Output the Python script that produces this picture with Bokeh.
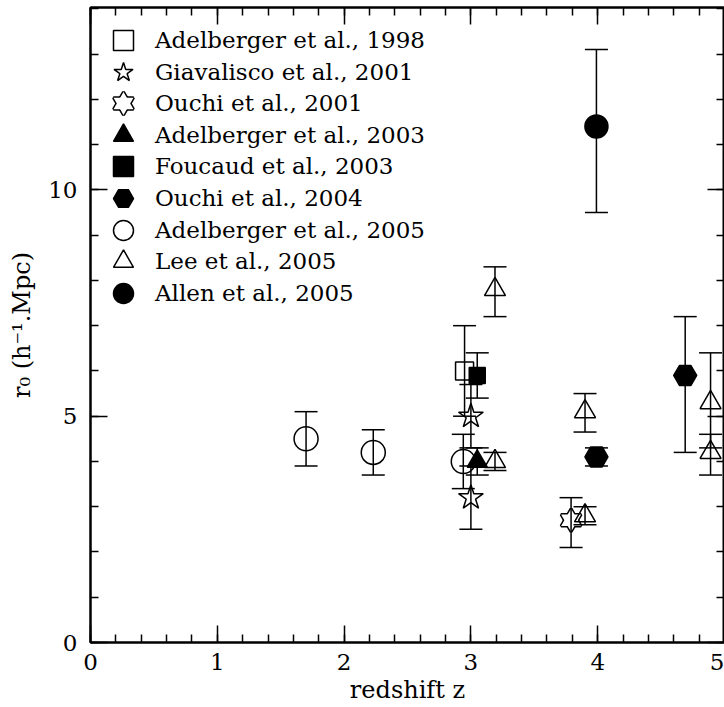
from bokeh.plotting import figure
from bokeh.models import Range1d, LinearAxis, SingleIntervalTicker, Legend, LegendItem
from bokeh.embed import file_html
from bokeh.resources import INLINE

# ---------------- data (redshift z, r0, upper err, lower err) ----------------
adel98_z = [2.95]
adel98_r = [6.0]
adel98_eu = [1.0]
adel98_el = [1.0]

giav01_z = [3.0, 3.0]
giav01_r = [5.0, 3.2]
giav01_eu = [0.7, 0.7]
giav01_el = [0.7, 0.7]

ouchi01_z = [3.79]
ouchi01_r = [2.7]
ouchi01_eu = [0.5]
ouchi01_el = [0.6]

adel03_z = [3.05]
adel03_r = [4.0]
adel03_eu = [0.3]
adel03_el = [0.3]

fouc03_z = [3.05]
fouc03_r = [5.9]
fouc03_eu = [0.5]
fouc03_el = [0.5]

ouchi04_z = [3.99, 4.69]
ouchi04_r = [4.1, 5.9]
ouchi04_eu = [0.2, 1.3]
ouchi04_el = [0.2, 1.7]

adel05_z = [1.7, 2.23, 2.94]
adel05_r = [4.5, 4.2, 4.0]
adel05_eu = [0.6, 0.5, 0.6]
adel05_el = [0.6, 0.5, 0.6]

lee05_z = [3.19, 3.19, 3.9, 3.9, 4.89, 4.89]
lee05_r = [7.8, 4.0, 5.1, 2.8, 5.3, 4.2]
lee05_eu = [0.5, 0.2, 0.4, 0.2, 1.1, 0.4]
lee05_el = [0.6, 0.2, 0.45, 0.2, 1.0, 0.5]

allen05_z = [3.99]
allen05_r = [11.4]
allen05_eu = [1.7]
allen05_el = [1.9]

labels = ["Adelberger et al., 1998", "Giavalisco et al., 2001", "Ouchi et al., 2001",
          "Adelberger et al., 2003", "Foucaud et al., 2003", "Ouchi et al., 2004",
          "Adelberger et al., 2005", "Lee et al., 2005", "Allen et al., 2005"]

x_label = "redshift z"
y_label = "r\u2080 (h\u207b\u00b9.Mpc)"

FONT = "DejaVu Serif"
LW = 1.5

# layout constants (pixels)
W, H = 724, 707
BORDER_L, BORDER_T, BORDER_B = 90, 7, 65
FRAME_H = H - BORDER_T - BORDER_B

p = figure(width=W, height=H, x_range=Range1d(0, 5.0), y_range=Range1d(0, 14.03),
           x_axis_type=None, y_axis_type=None, output_backend="svg", toolbar_location=None,
           min_border_left=BORDER_L, min_border_right=0, min_border_top=BORDER_T,
           min_border_bottom=BORDER_B,
           background_fill_color="white", border_fill_color="white")
p.outline_line_color = "black"
p.outline_line_width = 2


def make_axis(interval, show_labels):
    ax = LinearAxis(ticker=SingleIntervalTicker(interval=interval, num_minor_ticks=5))
    ax.major_tick_in = 17
    ax.major_tick_out = 0
    ax.minor_tick_in = 8
    ax.minor_tick_out = 0
    ax.axis_line_width = 2
    ax.axis_line_color = "black"
    ax.major_tick_line_width = LW
    ax.minor_tick_line_width = LW
    ax.major_tick_line_color = "black"
    ax.minor_tick_line_color = "black"
    ax.major_label_text_font = FONT
    ax.major_label_text_color = "black"
    ax.major_label_text_font_size = "23px"
    ax.axis_label_text_font = FONT
    ax.axis_label_text_font_style = "normal"
    ax.axis_label_text_color = "black"
    ax.axis_label_text_font_size = "24px"
    if not show_labels:
        ax.major_label_text_color = None
        ax.major_label_standoff = 0
    return ax


bottom = make_axis(1, True)
bottom.axis_label = x_label
bottom.major_label_standoff = 11
bottom.axis_label_standoff = 3
left = make_axis(5, True)
left.axis_label = y_label
left.major_label_standoff = 13
left.axis_label_standoff = 9
top = make_axis(1, False)
right = make_axis(5, False)
p.add_layout(bottom, "below")
p.add_layout(left, "left")
p.add_layout(top, "above")
p.add_layout(right, "right")


# ---- Ouchi 2001 six-pointed star (drawn first: thick outline then white fill) ----
hexa = []
for m in ("triangle", "inverted_triangle"):
    hexa.append(p.scatter(x=ouchi01_z, y=ouchi01_r, marker=m, size=20, line_color="black",
                          line_width=3, fill_alpha=0))
for m in ("triangle", "inverted_triangle"):
    hexa.append(p.scatter(x=ouchi01_z, y=ouchi01_r, marker=m, size=20, line_alpha=0,
                          fill_color="white"))


def errbars(z, r, eu, el):
    lo = [a - b for a, b in zip(r, el)]
    hi = [a + b for a, b in zip(r, eu)]
    p.segment(x0=z, y0=lo, x1=z, y1=hi, line_color="black", line_width=LW)
    p.scatter(x=list(z) + list(z), y=lo + hi, marker="dash", size=23,
              line_color="black", line_width=LW)


for z, r, eu, el in [(adel98_z, adel98_r, adel98_eu, adel98_el),
                     (giav01_z, giav01_r, giav01_eu, giav01_el),
                     (ouchi01_z, ouchi01_r, ouchi01_eu, ouchi01_el),
                     (adel03_z, adel03_r, adel03_eu, adel03_el),
                     (fouc03_z, fouc03_r, fouc03_eu, fouc03_el),
                     (ouchi04_z, ouchi04_r, ouchi04_eu, ouchi04_el),
                     (adel05_z, adel05_r, adel05_eu, adel05_el),
                     (lee05_z, lee05_r, lee05_eu, lee05_el),
                     (allen05_z, allen05_r, allen05_eu, allen05_el)]:
    errbars(z, r, eu, el)

r_adel98 = p.scatter(x=adel98_z, y=adel98_r, marker="square", size=18, fill_alpha=0,
                     line_color="black", line_width=LW)
r_giav01 = p.scatter(x=giav01_z, y=giav01_r, marker="star", size=26, fill_alpha=0,
                     line_color="black", line_width=LW)
r_adel03 = p.scatter(x=adel03_z, y=adel03_r, marker="triangle", size=20, fill_color="black",
                     line_color="black", line_width=LW)
r_fouc03 = p.scatter(x=fouc03_z, y=fouc03_r, marker="square", size=16, fill_color="black",
                     line_color="black", line_width=LW)
r_ouchi04 = p.scatter(x=ouchi04_z, y=ouchi04_r, marker="hex", size=23, fill_color="black",
                      line_color="black", line_width=LW)
r_adel05 = p.scatter(x=adel05_z, y=adel05_r, marker="circle", size=24, fill_alpha=0,
                     line_color="black", line_width=LW)
r_lee05 = p.scatter(x=lee05_z, y=lee05_r, marker="triangle", size=21, fill_alpha=0,
                    line_color="black", line_width=LW)
r_allen05 = p.scatter(x=allen05_z, y=allen05_r, marker="circle", size=23, fill_color="black",
                      line_color="black", line_width=LW)

rends = [[r_adel98], [r_giav01], hexa, [r_adel03], [r_fouc03], [r_ouchi04],
         [r_adel05], [r_lee05], [r_allen05]]

# one single-entry legend per row so the key markers can be large while rows stay tight
GLYPH = 50
ROW0 = 33      # first row centre below frame top
STEP = 31.6    # row pitch
for i, (lab, rr) in enumerate(zip(labels, rends)):
    centre_from_top = ROW0 + i * STEP
    bottom_from_frame_bottom = FRAME_H - centre_from_top - GLYPH / 2
    lg = Legend(items=[LegendItem(label=lab, renderers=rr)],
                location=(8, bottom_from_frame_bottom), orientation="vertical",
                glyph_width=GLYPH, glyph_height=GLYPH, spacing=0, padding=0, margin=0,
                label_standoff=7, label_text_font=FONT, label_text_font_size="23px",
                label_text_color="black",
                background_fill_alpha=0, border_line_alpha=0)
    p.add_layout(lg)

open("out.html", "w").write(file_html(p, INLINE))
